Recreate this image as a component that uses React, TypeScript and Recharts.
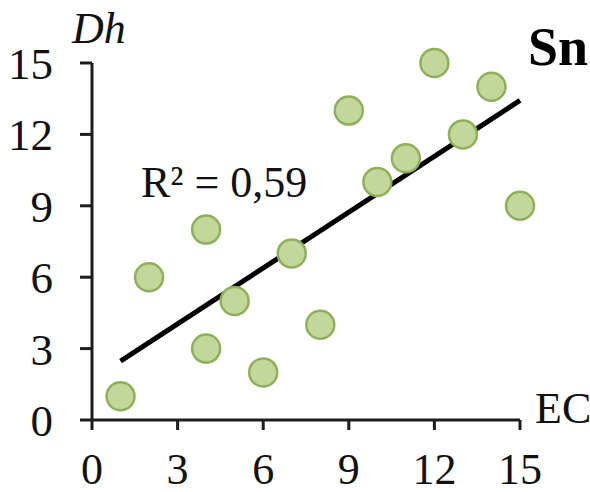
import React from 'react';
import { ScatterChart, Scatter, XAxis, YAxis, ReferenceLine } from 'recharts';

const ecValues = [1, 2, 4, 4, 5, 6, 7, 8, 9, 10, 11, 12, 13, 14, 15];
const dhValues = [1, 6, 8, 3, 5, 2, 7, 4, 13, 10, 11, 15, 12, 14, 9];
const xTicks = [0, 3, 6, 9, 12, 15];
const yTicks = [0, 3, 6, 9, 12, 15];
const trendStart = { x: 1, y: 2.47 };
const trendEnd = { x: 15, y: 13.43 };
const r2Label = 'R² = 0,59';
const elementLabel = 'Sn';
const xLabel = 'EC';
const yLabel = 'Dh';

const points = ecValues.map((x, i) => ({ x, y: dhValues[i] }));

const FONT = '"Liberation Serif", "Times New Roman", serif';
const AXIS = '#1c1c1c';

const Dot = (props: any) => {
  const { cx, cy } = props;
  if (cx == null || cy == null) return null;
  return <circle cx={cx} cy={cy} r={14} fill="#c3d79b" stroke="#8fb05a" strokeWidth={2.5} />;
};

export default function App() {
  return (
    <div style={{ position: 'absolute', left: 0, top: 0, width: 590, height: 492, background: '#fff' }}>
      <ScatterChart width={590} height={492} margin={{ top: 63, right: 70, bottom: 0, left: 0 }}>
        <XAxis
          type="number"
          dataKey="x"
          domain={[0, 15]}
          ticks={xTicks}
          height={72}
          tickSize={10}
          tickMargin={23}
          axisLine={{ stroke: AXIS, strokeWidth: 3 }}
          tickLine={{ stroke: AXIS, strokeWidth: 3 }}
          tick={{ fill: '#111', fontSize: 44, fontFamily: FONT }}
        />
        <YAxis
          type="number"
          dataKey="y"
          domain={[0, 15]}
          ticks={yTicks}
          width={92}
          tickSize={12}
          tickMargin={27}
          axisLine={{ stroke: AXIS, strokeWidth: 3 }}
          tickLine={{ stroke: AXIS, strokeWidth: 3 }}
          tick={{ fill: '#111', fontSize: 45, fontFamily: FONT }}
        />
        <ReferenceLine
          segment={[trendStart, trendEnd]}
          stroke="#000"
          strokeWidth={5}
          ifOverflow="visible"
        />
        <Scatter data={points} shape={Dot} isAnimationActive={false} />
        <text x={72} y={43} fontFamily={FONT} fontSize={44} fontStyle="italic" fill="#111">{yLabel}</text>
        <text x={528} y={65} fontFamily={FONT} fontSize={54} fontWeight="bold" fill="#000">{elementLabel}</text>
        <text x={535} y={423} fontFamily={FONT} fontSize={44} fill="#111">{xLabel}</text>
        <text x={141} y={197} fontFamily={FONT} fontSize={44} fill="#111">{r2Label}</text>
      </ScatterChart>
    </div>
  );
}
